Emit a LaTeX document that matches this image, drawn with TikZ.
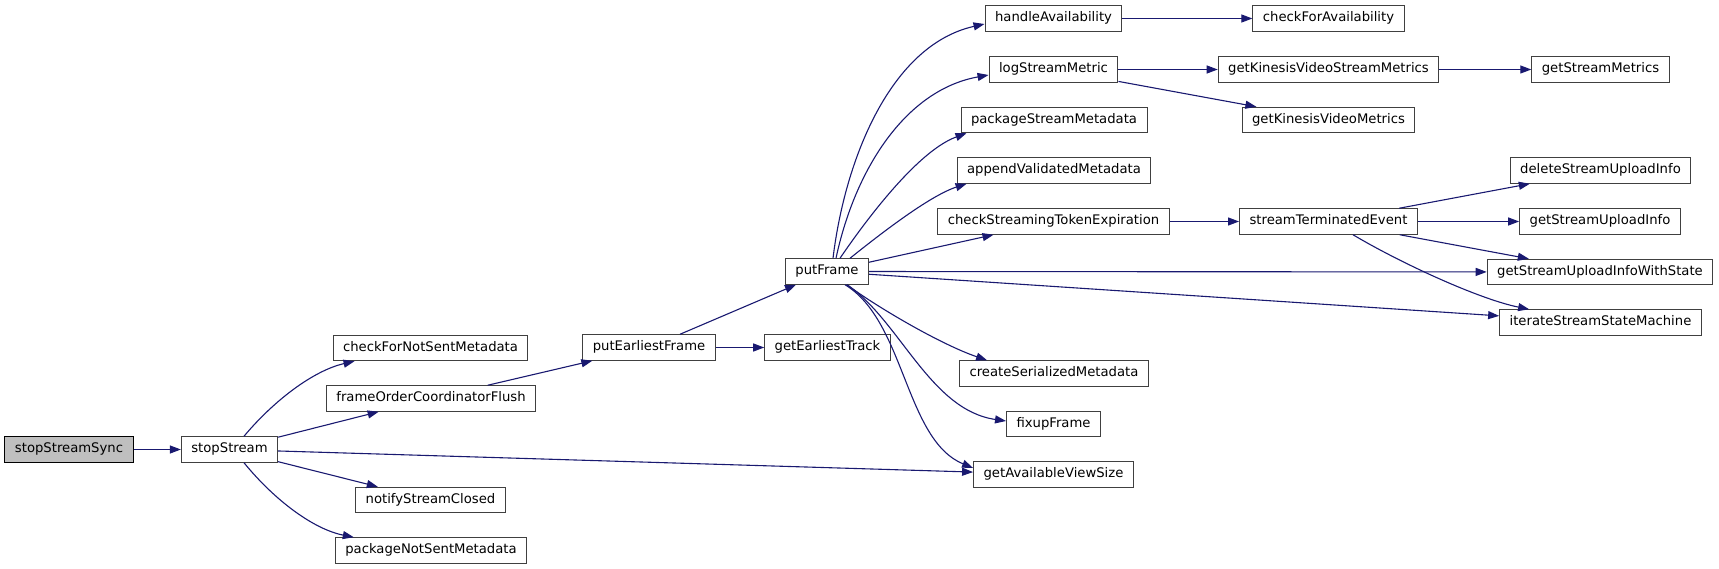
\documentclass[tikz,border=0pt]{standalone}
\usepackage{fontspec}
\setmainfont{DejaVu Sans}
\usetikzlibrary{arrows.meta}
\definecolor{edgeblue}{HTML}{191970}
\definecolor{boxgray}{HTML}{404040}
\definecolor{rootgray}{HTML}{BFBFBF}
\tikzset{
    fn/.style={
        draw=boxgray,
        line width=1pt,
        fill=white,
        minimum height=25.5pt,
        inner xsep=10pt,
        inner ysep=0pt,
        text height=9.5pt,
        text depth=3pt,
        font=\fontsize{13.2}{15}\selectfont
    },
    rootfn/.style={fn, draw=black, fill=rootgray},
    call/.style={-{Triangle[length=11pt, width=8pt]}, draw=edgeblue, line width=1.1pt}
}
\begin{document}
\begin{tikzpicture}[x=1pt, y=-1pt]
\useasboundingbox (0,0) rectangle (1719,569);

\node[rootfn] (ssync) at (69,449.5) {stopStreamSync};
\node[fn] (sstream) at (229.5,449.5) {stopStream};

\node[fn] (cfnsm) at (430.5,348) {checkForNotSentMetadata};
\node[fn] (focf) at (431,398.5) {frameOrderCoordinatorFlush};
\node[fn] (nsc) at (430.5,500) {notifyStreamClosed};
\node[fn] (pnsm) at (431,550.5) {packageNotSentMetadata};

\node[fn] (pef) at (649,347.5) {putEarliestFrame};
\node[fn] (get) at (827.5,347.5) {getEarliestTrack};
\node[fn] (pf) at (827,271.5) {putFrame};

\node[fn] (ha) at (1053.5,18.5) {handleAvailability};
\node[fn] (lsm) at (1053.5,69.5) {logStreamMetric};
\node[fn] (psm) at (1054,120) {packageStreamMetadata};
\node[fn] (avm) at (1054,170.5) {appendValidatedMetadata};
\node[fn] (cste) at (1053.5,221.5) {checkStreamingTokenExpiration};
\node[fn] (csm) at (1054,373.5) {createSerializedMetadata};
\node[fn] (fuf) at (1053.5,424) {fixupFrame};
\node[fn] (gavs) at (1053.5,474.5) {getAvailableViewSize};

\node[fn] (cfa) at (1328.5,18.5) {checkForAvailability};
\node[fn] (gkvsm) at (1328.5,69.5) {getKinesisVideoStreamMetrics};
\node[fn] (gkvm) at (1328.5,120) {getKinesisVideoMetrics};
\node[fn] (ste) at (1328.5,221.5) {streamTerminatedEvent};

\node[fn] (gsm) at (1600.5,69.5) {getStreamMetrics};
\node[fn] (dsui) at (1600.5,170.5) {deleteStreamUploadInfo};
\node[fn] (gsui) at (1600,221.5) {getStreamUploadInfo};
\node[fn] (gsuiws) at (1600,272) {getStreamUploadInfoWithState};
\node[fn] (issm) at (1600.5,322.5) {iterateStreamStateMachine};

\draw[call] (ssync) -- (sstream);
\draw[call] ([xshift=14.5pt]sstream.north) .. controls +(31,-37) and +(-40,9) .. ([xshift=22pt]cfnsm.south west);
\draw[call] (sstream) -- (focf);
\draw[call] (sstream) -- (gavs);
\draw[call] (sstream) -- (nsc);
\draw[call] ([xshift=14.5pt]sstream.south) .. controls +(31,38) and +(-40,-8) .. ([xshift=19pt]pnsm.north west);

\draw[call] (focf) -- (pef);
\draw[call] (pef) -- (pf);
\draw[call] (pef) -- (get);

\draw[call] ([xshift=6pt]pf.north) .. controls +(12,-99) and +(-94,21) .. ([yshift=-5.5pt]ha.west);
\draw[call] ([xshift=9pt]pf.north) .. controls +(19,-89) and +(-83,15) .. ([yshift=-5.5pt]lsm.west);
\draw[call] ([xshift=13pt]pf.north) .. controls +(30,-44) and +(-47,17) .. ([xshift=6pt]psm.south west);
\draw[call] ([xshift=23pt]pf.north) .. controls +(30,-24) and +(-37,12) .. ([xshift=10pt]avm.south west);
\draw[call] (pf) -- (cste);
\draw[call] (pf) -- (gsuiws);
\draw[call] (pf) -- (issm);
\draw[call] ([xshift=20pt]pf.south) .. controls +(28,21) and +(-47,-16) .. ([xshift=28pt]csm.north west);
\draw[call] ([xshift=20pt]pf.south) .. controls +(53,36) and +(-76,-11) .. ([yshift=3pt]fuf.west);
\draw[call] ([xshift=18pt]pf.south) .. controls +(60,36) and +(-68,-28) .. ([yshift=6.5pt]gavs.west);

\draw[call] (ha) -- (cfa);
\draw[call] (lsm) -- (gkvsm);
\draw[call] (lsm) -- (gkvm);
\draw[call] (gkvsm) -- (gsm);
\draw[call] (cste) -- (ste);

\draw[call] (ste) -- (dsui);
\draw[call] (ste) -- (gsui);
\draw[call] (ste) -- (gsuiws);
\draw[call] ([xshift=24.5pt]ste.south) .. controls +(47,28) and +(-50,-10) .. ([xshift=30pt]issm.north west);
\end{tikzpicture}
\end{document}
